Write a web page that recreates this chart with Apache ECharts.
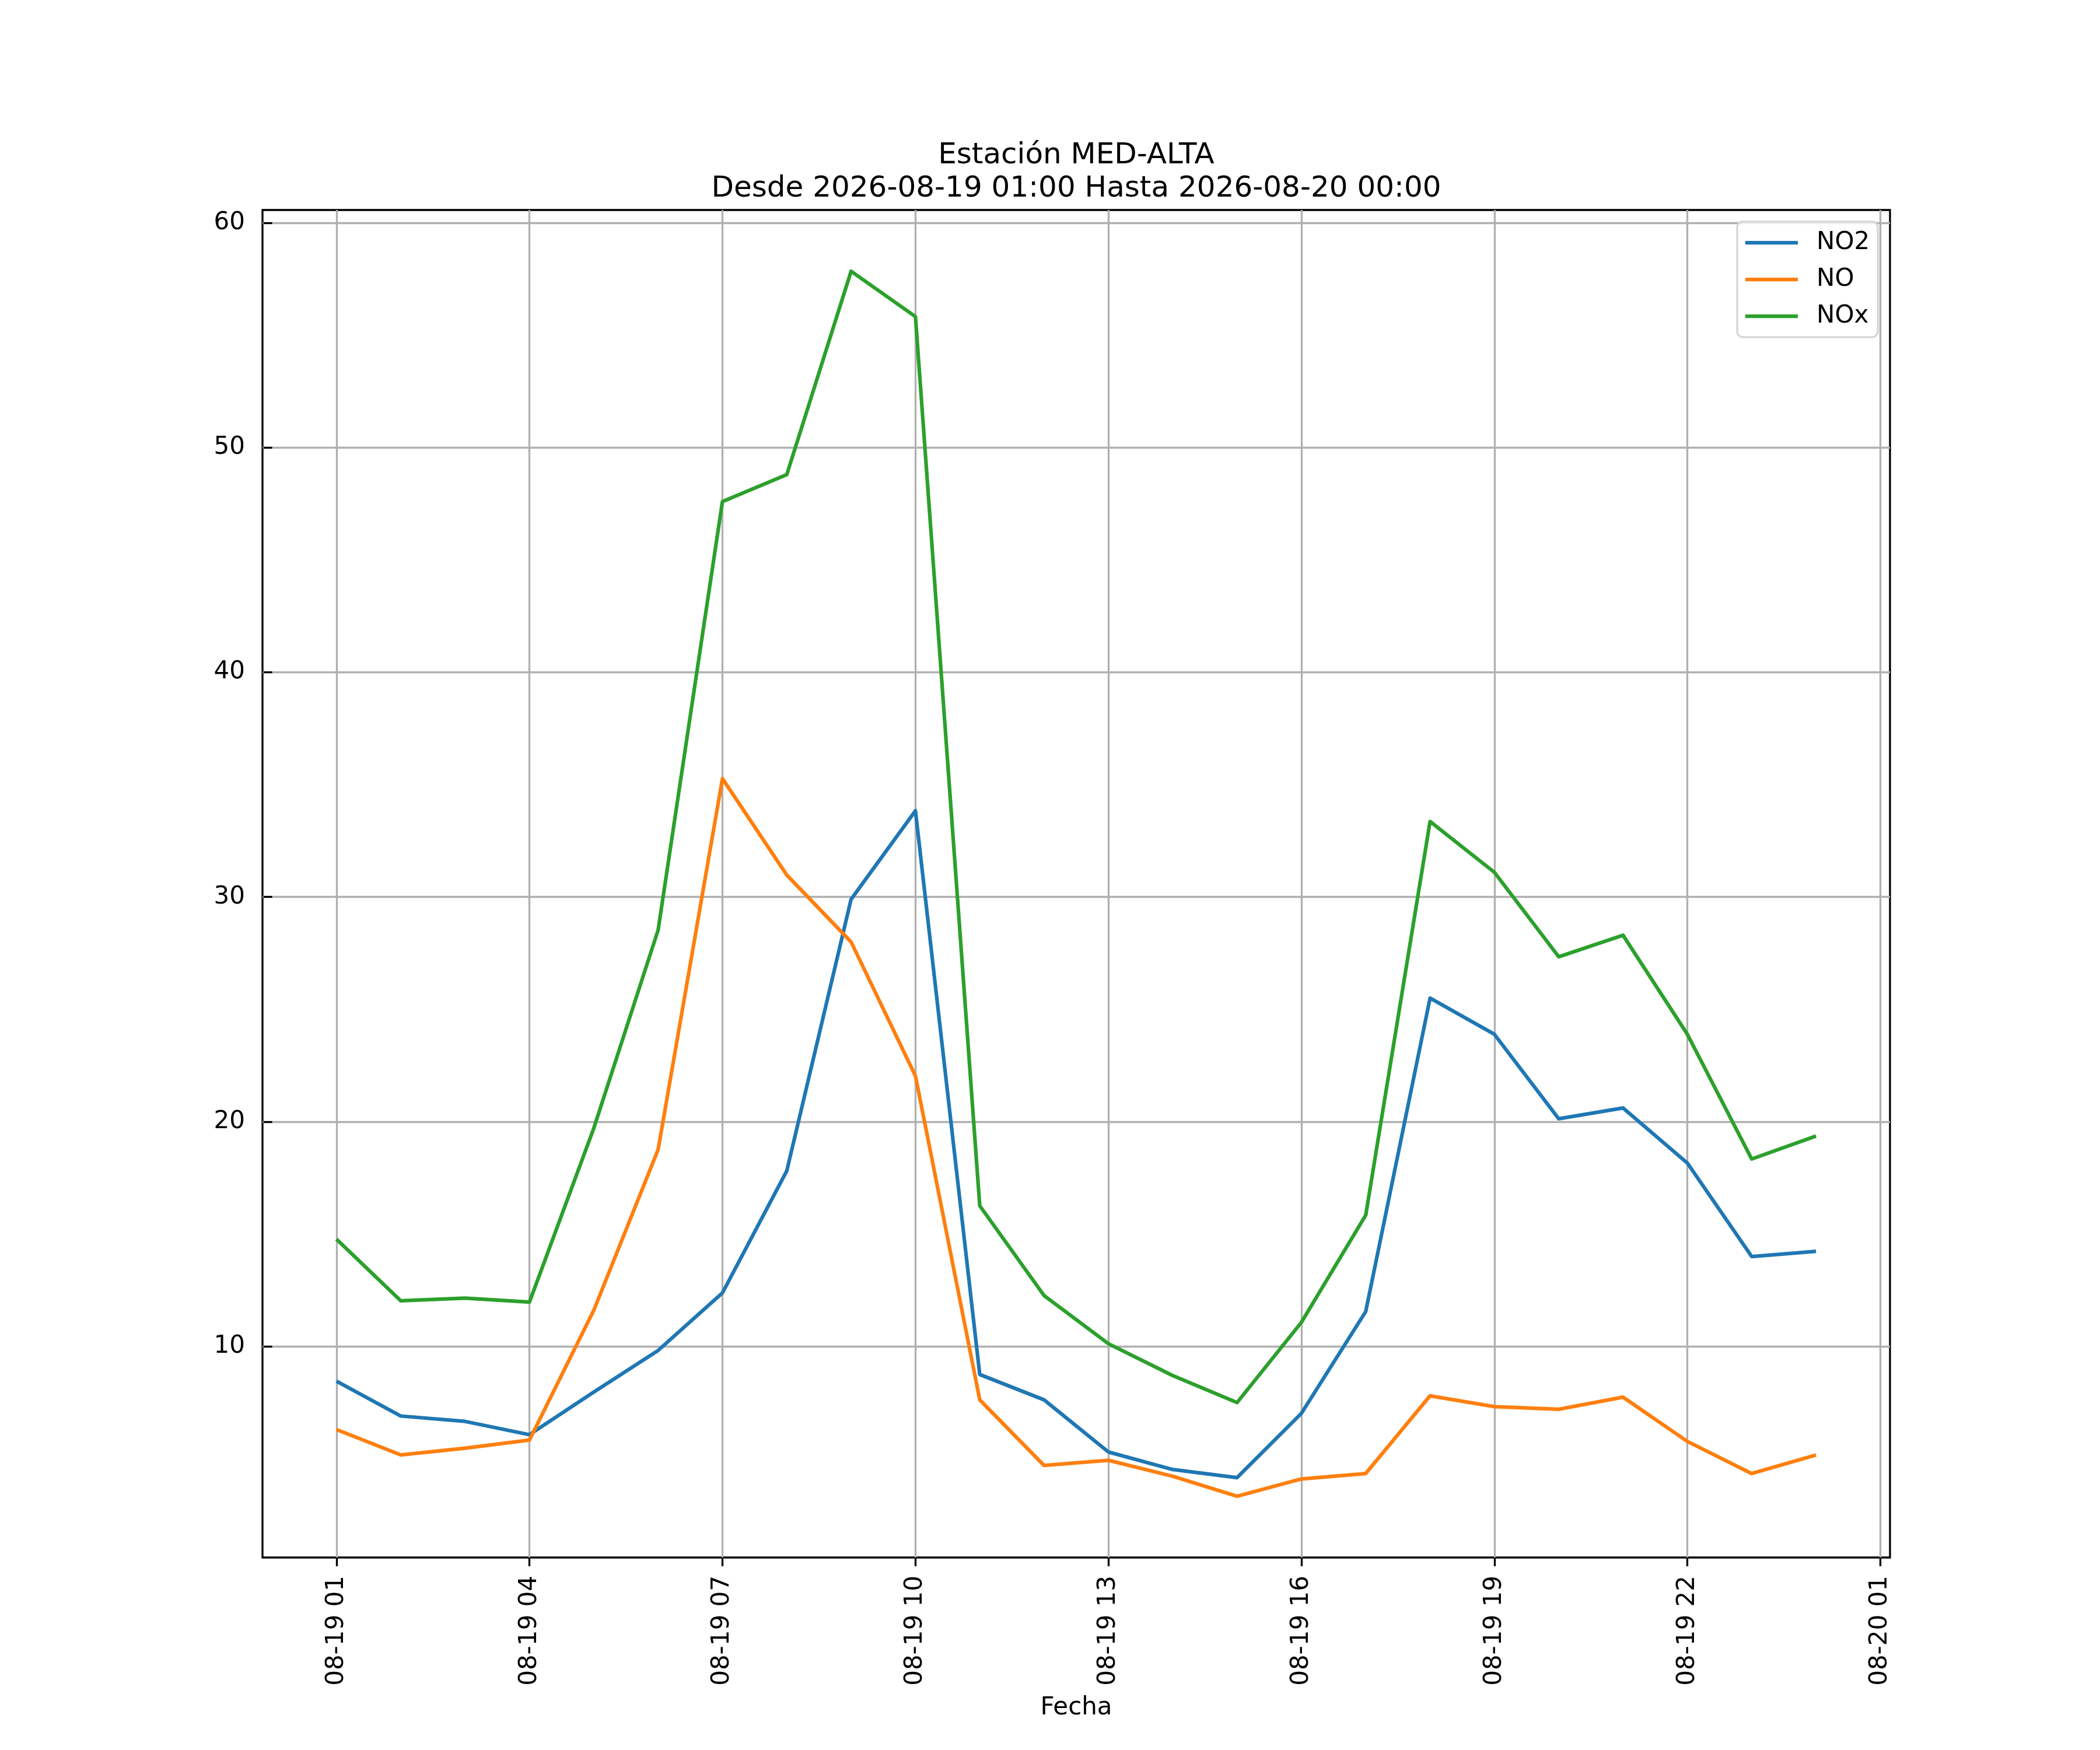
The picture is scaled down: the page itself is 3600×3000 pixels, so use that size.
<!DOCTYPE html>
<html>
<head>
<meta charset="utf-8">
<script src="https://cdn.jsdelivr.net/npm/echarts@6/dist/echarts.min.js"></script>
<style>
  html, body { margin: 0; padding: 0; background: #fff; }
  #chart { width: 3600px; height: 3000px; }
</style>
</head>
<body>
<div id="chart"></div>
<script>
(function() {
// ── datos ──
const titleLines = ['Estación MED-ALTA', 'Desde 2026-08-19 01:00 Hasta 2026-08-20 00:00'];
const xName = 'Fecha';
const hours = [1, 2, 3, 4, 5, 6, 7, 8, 9, 10, 11, 12, 13, 14, 15, 16, 17, 18, 19, 20, 21, 22, 23, 24];
const no2 = [8.45, 6.9, 6.66, 6.07, 7.97, 9.82, 12.38, 17.81, 29.9, 33.84, 8.75, 7.62,
             5.3, 4.52, 4.16, 7.02, 11.55, 25.5, 23.89, 20.13, 20.61, 18.16, 14.0, 14.23];
const no = [6.3, 5.17, 5.47, 5.83, 11.61, 18.76, 35.27, 30.98, 28.0, 22.04, 7.62, 4.7,
            4.93, 4.22, 3.33, 4.1, 4.34, 7.8, 7.32, 7.2, 7.74, 5.77, 4.34, 5.17];
const nox = [14.77, 12.03, 12.15, 11.97, 19.71, 28.53, 47.6, 48.8, 57.85, 55.83, 16.26, 12.26,
             10.12, 8.7, 7.5, 11.07, 15.84, 33.36, 31.1, 27.34, 28.3, 23.89, 18.34, 19.36];
const xTicks = [1, 4, 7, 10, 13, 16, 19, 22, 25];
const yTicks = [10, 20, 30, 40, 50, 60];
const seriesNames = ['NO2', 'NO', 'NOx'];
const colors = ['#1f77b4', '#ff7f0e', '#2ca02c'];

// ── márgenes estilo matplotlib (5%) ──
const pad = (lo, hi) => { const m = (hi - lo) * 0.05; return [lo - m, hi + m]; };
const [xMin, xMax] = pad(hours[0], hours[hours.length - 1]);
const allY = no2.concat(no, nox);
const [yMin, yMax] = pad(Math.min.apply(null, allY), Math.max.apply(null, allY));

const two = n => (n < 10 ? '0' : '') + n;
const fmtHour = v => '08-' + (v < 24 ? '19' : '20') + ' ' + two(v % 24);

const FONT = 'DejaVu Sans';
const axisCommon = {
  axisLine: { show: false },
  axisTick: { show: true, inside: false, length: 15, lineStyle: { color: '#000', width: 3.3 } },
  splitLine: { show: true, lineStyle: { color: '#b0b0b0', width: 3.3 } },
};

const chart = echarts.init(document.getElementById('chart'), null, { renderer: 'canvas' });
chart.setOption({
  backgroundColor: '#fff',
  animation: false,
  title: {
    text: titleLines.join('\n'),
    left: 1845, top: 239, padding: 0,
    textAlign: 'center',
    textStyle: { fontFamily: FONT, fontSize: 50, fontWeight: 'normal', color: '#000', lineHeight: 57 }
  },
  legend: {
    data: seriesNames,
    orient: 'vertical',
    left: 2978, top: 380,
    padding: [15, 14, 15, 14],
    itemGap: 21,
    itemWidth: 90, itemHeight: 6.25,
    icon: 'rect',
    backgroundColor: 'rgba(255,255,255,0.8)',
    borderColor: '#d6d6d6', borderWidth: 3.3, borderRadius: 10,
    textStyle: { fontFamily: FONT, fontSize: 42, color: '#000', lineHeight: 42, padding: [0, 0, 0, 27] }
  },
  grid: {
    left: 450, top: 360, width: 2790, height: 2310,
    show: true, borderColor: '#000', borderWidth: 3.3, backgroundColor: 'transparent',
    containLabel: false
  },
  xAxis: Object.assign({}, axisCommon, {
    type: 'value', min: xMin, max: xMax,
    name: xName, nameLocation: 'middle', nameGap: 237,
    nameTextStyle: { fontFamily: FONT, fontSize: 42, color: '#000' },
    axisTick: Object.assign({}, axisCommon.axisTick, { customValues: xTicks }),
    axisLabel: {
      customValues: xTicks, rotate: 90, margin: 31,
      fontFamily: FONT, fontSize: 42, color: '#000',
      formatter: fmtHour
    }
  }),
  yAxis: Object.assign({}, axisCommon, {
    type: 'value', min: yMin, max: yMax,
    axisTick: Object.assign({}, axisCommon.axisTick, { customValues: yTicks }),
    axisLabel: {
      customValues: yTicks, margin: 30,
      fontFamily: FONT, fontSize: 42, color: '#000'
    }
  }),
  series: seriesNames.map((name, i) => ({
    name: name,
    type: 'line',
    data: hours.map((h, k) => [h, [no2, no, nox][i][k]]),
    showSymbol: false,
    color: colors[i],
    lineStyle: { color: colors[i], width: 6.25, join: 'round' }
  }))
});
})();
</script>
</body>
</html>
